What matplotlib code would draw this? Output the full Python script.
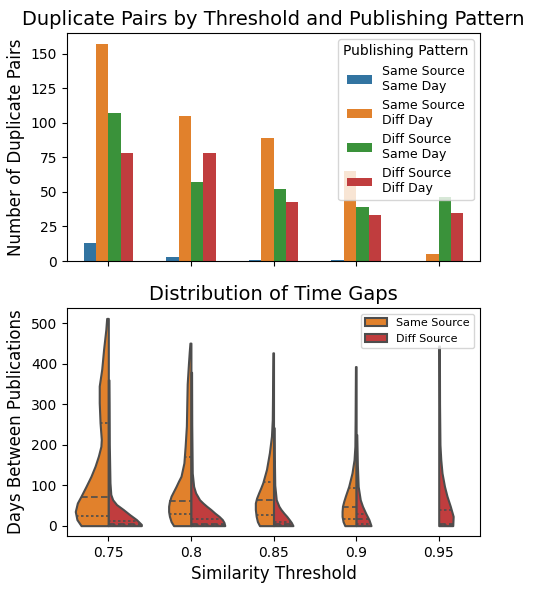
import numpy as np
import matplotlib
matplotlib.use("Agg")
import matplotlib.pyplot as plt
from matplotlib.patches import Patch

thresholds = ["0.75", "0.8", "0.85", "0.9", "0.95"]
patterns = ["Same Source\nSame Day", "Same Source\nDiff Day",
            "Diff Source\nSame Day", "Diff Source\nDiff Day"]
pair_counts = {
    "Same Source\nSame Day": [13, 3, 1, 1, 0],
    "Same Source\nDiff Day": [157, 105, 89, 65, 5],
    "Diff Source\nSame Day": [107, 57, 52, 39, 46],
    "Diff Source\nDiff Day": [78, 78, 43, 33, 35],
}
bar_colors = ["#3274a1", "#e1812c", "#3a923a", "#c03d3e"]

# violin shapes: days -> relative half width
same_days = [
    [0, 3, 15, 35, 56, 73, 97, 122, 147, 172, 196, 213, 254, 304, 345, 386, 436, 485, 512],
    [0, 10, 23, 35, 48, 60, 73, 85, 97, 110, 122, 155, 196, 246, 300, 350, 400, 430, 451],
    [0, 10, 23, 40, 56, 68, 81, 93, 106, 139, 180, 221, 262, 320, 380, 427],
    [0, 10, 23, 35, 48, 60, 73, 85, 97, 130, 163, 196, 260, 330, 393],
    [],
]
same_dens = [
    [0.33, 0.34, 0.38, 0.40, 0.375, 0.33, 0.27, 0.21, 0.16, 0.12, 0.09, 0.085, 0.10, 0.11, 0.11, 0.08, 0.057, 0.03, 0.02],
    [0.21, 0.24, 0.26, 0.27, 0.27, 0.26, 0.24, 0.21, 0.18, 0.15, 0.12, 0.085, 0.07, 0.055, 0.05, 0.045, 0.03, 0.02, 0.012],
    [0.17, 0.195, 0.21, 0.22, 0.22, 0.205, 0.18, 0.155, 0.13, 0.085, 0.05, 0.025, 0.015, 0.012, 0.01, 0.008],
    [0.137, 0.158, 0.17, 0.17, 0.165, 0.15, 0.13, 0.11, 0.09, 0.05, 0.025, 0.015, 0.012, 0.01, 0.008],
    [],
]
same_quart = [[25, 72, 253], [30, 60, 169], [27, 63, 107], [17, 45, 92], []]

diff_days = [
    [0, 3, 15, 27, 40, 52, 64, 77, 106, 200, 300, 360],
    [0, 8, 15, 23, 31, 40, 48, 56, 64, 81, 97, 130, 250, 379],
    [0, 8, 15, 23, 31, 40, 48, 64, 100, 170, 242],
    [0, 15, 31, 48, 64, 97, 150, 225],
    [0, 23, 48, 73, 97, 130, 163, 200, 300, 380, 444],
]
diff_dens = [
    [0.40, 0.40, 0.34, 0.26, 0.18, 0.10, 0.053, 0.03, 0.02, 0.012, 0.01, 0.008],
    [0.41, 0.40, 0.38, 0.34, 0.29, 0.24, 0.19, 0.145, 0.105, 0.057, 0.033, 0.016, 0.01, 0.008],
    [0.235, 0.215, 0.19, 0.16, 0.125, 0.09, 0.065, 0.033, 0.015, 0.01, 0.008],
    [0.18, 0.155, 0.115, 0.077, 0.05, 0.025, 0.015, 0.008],
    [0.17, 0.175, 0.14, 0.10, 0.07, 0.04, 0.025, 0.015, 0.01, 0.009, 0.008],
]
diff_quart = [[1, 4, 12], [1, 5, 16], [1, 3, 8], [5, 16, 30], [1, 5, 38]]

violin_colors = {"Same Source": "#e1812c", "Diff Source": "#c03d3e"}
edge = "#4d4d4d"

fig = plt.figure(figsize=(5.34, 5.9), dpi=100)
ax1 = fig.add_axes([0.1255, 0.5576, 0.7734, 0.3864])
ax2 = fig.add_axes([0.1255, 0.0915, 0.7734, 0.3864])

# top: grouped bars
x = np.arange(len(thresholds))
bw = 0.15
for i, p in enumerate(patterns):
    ax1.bar(x + (i - 1.5) * bw, pair_counts[p], bw, color=bar_colors[i], label=p)
ax1.set_xlim(-0.5, len(thresholds) - 0.5)
ax1.set_xticks(x)
ax1.set_xticklabels([])
ax1.set_title("Duplicate Pairs by Threshold and Publishing Pattern", fontsize=14)
ax1.set_ylabel("Number of Duplicate Pairs", fontsize=12)
ax1.legend(title="Publishing Pattern", fontsize=9, title_fontsize=10, loc="upper right")


def half_violin(ax, pos, days, dens, quart, color, side):
    if not days:
        return
    days = np.array(days, dtype=float)
    dens = np.array(dens)
    if side == "left":
        ax.fill_betweenx(days, pos - dens, pos, facecolor=color, edgecolor=edge,
                         linewidth=1.5, joinstyle="round", zorder=2)
    else:
        ax.fill_betweenx(days, pos, pos + dens, facecolor=color, edgecolor=edge,
                         linewidth=1.5, joinstyle="round", zorder=2)
    for k, q in enumerate(quart):
        w = np.interp(q, days, dens)
        ls = (0, (4, 2)) if k == 1 else (0, (1.5, 1.5))
        xs = [pos - w, pos] if side == "left" else [pos, pos + w]
        ax.plot(xs, [q, q], color=edge, linestyle=ls, linewidth=1.2, zorder=3)


for i in range(len(thresholds)):
    half_violin(ax2, i, same_days[i], same_dens[i], same_quart[i], violin_colors["Same Source"], "left")
    half_violin(ax2, i, diff_days[i], diff_dens[i], diff_quart[i], violin_colors["Diff Source"], "right")

ax2.set_xlim(-0.5, len(thresholds) - 0.5)
ax2.set_ylim(-25.6, 537.6)
ax2.set_xticks(x)
ax2.set_xticklabels(thresholds)
ax2.set_title("Distribution of Time Gaps", fontsize=14)
ax2.set_xlabel("Similarity Threshold", fontsize=12)
ax2.set_ylabel("Days Between Publications", fontsize=12)
handles = [Patch(facecolor=c, edgecolor=edge, linewidth=1.5, label=k) for k, c in violin_colors.items()]
ax2.legend(handles=handles, fontsize=8, loc="upper right")

fig.savefig("out.png", dpi=100)
